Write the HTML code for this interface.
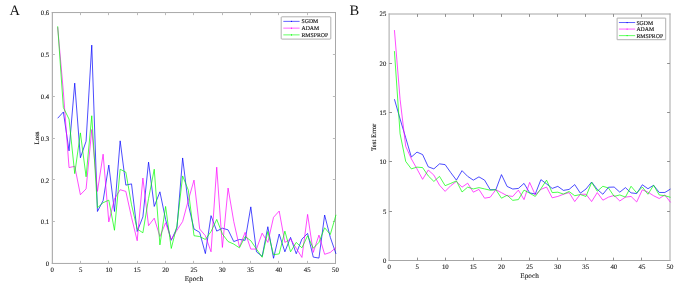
<!DOCTYPE html>
<html><head><meta charset="utf-8"><title>Training curves</title>
<style>
html,body{margin:0;padding:0;background:#fff;}
body{width:685px;height:287px;overflow:hidden;font-family:"Liberation Serif",serif;}
svg{display:block;will-change:transform;opacity:0.999;}
text{text-rendering:geometricPrecision;}
</style></head><body>
<svg width="685" height="287" viewBox="0 0 685 287" font-family="'Liberation Serif', serif">
<rect width="685" height="287" fill="#fff"/>
<text x="9.6" y="15.3" font-size="14.5" fill="#111">A</text>
<text x="349.4" y="15" font-size="14.5" fill="#111">B</text>
<line x1="52.35" y1="12.05" x2="52.35" y2="263.95" stroke="#a8a8a8" stroke-width="1.1"/>
<line x1="335.50" y1="12.05" x2="335.50" y2="263.95" stroke="#a8a8a8" stroke-width="1.0"/>
<line x1="51.80" y1="12.55" x2="336.00" y2="12.55" stroke="#a8a8a8" stroke-width="1.0"/>
<line x1="51.80" y1="263.45" x2="336.00" y2="263.45" stroke="#a8a8a8" stroke-width="1.0"/>
<text x="52.30" y="271.85" text-anchor="middle" font-size="6.8" fill="#1a1a1a" stroke="#1a1a1a" stroke-width="0.12">0</text>
<line x1="80.50" y1="263.45" x2="80.50" y2="260.85" stroke="#bababa" stroke-width="1"/>
<line x1="80.50" y1="12.55" x2="80.50" y2="15.15" stroke="#bababa" stroke-width="1"/>
<text x="80.62" y="271.85" text-anchor="middle" font-size="6.8" fill="#1a1a1a" stroke="#1a1a1a" stroke-width="0.12">5</text>
<line x1="108.50" y1="263.45" x2="108.50" y2="260.85" stroke="#bababa" stroke-width="1"/>
<line x1="108.50" y1="12.55" x2="108.50" y2="15.15" stroke="#bababa" stroke-width="1"/>
<text x="108.94" y="271.85" text-anchor="middle" font-size="6.8" fill="#1a1a1a" stroke="#1a1a1a" stroke-width="0.12">10</text>
<line x1="137.50" y1="263.45" x2="137.50" y2="260.85" stroke="#bababa" stroke-width="1"/>
<line x1="137.50" y1="12.55" x2="137.50" y2="15.15" stroke="#bababa" stroke-width="1"/>
<text x="137.26" y="271.85" text-anchor="middle" font-size="6.8" fill="#1a1a1a" stroke="#1a1a1a" stroke-width="0.12">15</text>
<line x1="165.50" y1="263.45" x2="165.50" y2="260.85" stroke="#bababa" stroke-width="1"/>
<line x1="165.50" y1="12.55" x2="165.50" y2="15.15" stroke="#bababa" stroke-width="1"/>
<text x="165.58" y="271.85" text-anchor="middle" font-size="6.8" fill="#1a1a1a" stroke="#1a1a1a" stroke-width="0.12">20</text>
<line x1="193.50" y1="263.45" x2="193.50" y2="260.85" stroke="#bababa" stroke-width="1"/>
<line x1="193.50" y1="12.55" x2="193.50" y2="15.15" stroke="#bababa" stroke-width="1"/>
<text x="193.90" y="271.85" text-anchor="middle" font-size="6.8" fill="#1a1a1a" stroke="#1a1a1a" stroke-width="0.12">25</text>
<line x1="222.50" y1="263.45" x2="222.50" y2="260.85" stroke="#bababa" stroke-width="1"/>
<line x1="222.50" y1="12.55" x2="222.50" y2="15.15" stroke="#bababa" stroke-width="1"/>
<text x="222.22" y="271.85" text-anchor="middle" font-size="6.8" fill="#1a1a1a" stroke="#1a1a1a" stroke-width="0.12">30</text>
<line x1="250.50" y1="263.45" x2="250.50" y2="260.85" stroke="#bababa" stroke-width="1"/>
<line x1="250.50" y1="12.55" x2="250.50" y2="15.15" stroke="#bababa" stroke-width="1"/>
<text x="250.54" y="271.85" text-anchor="middle" font-size="6.8" fill="#1a1a1a" stroke="#1a1a1a" stroke-width="0.12">35</text>
<line x1="278.50" y1="263.45" x2="278.50" y2="260.85" stroke="#bababa" stroke-width="1"/>
<line x1="278.50" y1="12.55" x2="278.50" y2="15.15" stroke="#bababa" stroke-width="1"/>
<text x="278.86" y="271.85" text-anchor="middle" font-size="6.8" fill="#1a1a1a" stroke="#1a1a1a" stroke-width="0.12">40</text>
<line x1="307.50" y1="263.45" x2="307.50" y2="260.85" stroke="#bababa" stroke-width="1"/>
<line x1="307.50" y1="12.55" x2="307.50" y2="15.15" stroke="#bababa" stroke-width="1"/>
<text x="307.18" y="271.85" text-anchor="middle" font-size="6.8" fill="#1a1a1a" stroke="#1a1a1a" stroke-width="0.12">45</text>
<text x="335.50" y="271.85" text-anchor="middle" font-size="6.8" fill="#1a1a1a" stroke="#1a1a1a" stroke-width="0.12">50</text>
<text x="49.20" y="266.15" text-anchor="end" font-size="6.7" fill="#1a1a1a" stroke="#1a1a1a" stroke-width="0.12">0</text>
<line x1="52.30" y1="221.50" x2="54.90" y2="221.50" stroke="#bababa" stroke-width="1"/>
<line x1="335.50" y1="221.50" x2="332.90" y2="221.50" stroke="#bababa" stroke-width="1"/>
<text x="49.20" y="224.33" text-anchor="end" font-size="6.7" fill="#1a1a1a" stroke="#1a1a1a" stroke-width="0.12">0.1</text>
<line x1="52.30" y1="179.50" x2="54.90" y2="179.50" stroke="#bababa" stroke-width="1"/>
<line x1="335.50" y1="179.50" x2="332.90" y2="179.50" stroke="#bababa" stroke-width="1"/>
<text x="49.20" y="182.52" text-anchor="end" font-size="6.7" fill="#1a1a1a" stroke="#1a1a1a" stroke-width="0.12">0.2</text>
<line x1="52.30" y1="138.50" x2="54.90" y2="138.50" stroke="#bababa" stroke-width="1"/>
<line x1="335.50" y1="138.50" x2="332.90" y2="138.50" stroke="#bababa" stroke-width="1"/>
<text x="49.20" y="140.70" text-anchor="end" font-size="6.7" fill="#1a1a1a" stroke="#1a1a1a" stroke-width="0.12">0.3</text>
<line x1="52.30" y1="96.50" x2="54.90" y2="96.50" stroke="#bababa" stroke-width="1"/>
<line x1="335.50" y1="96.50" x2="332.90" y2="96.50" stroke="#bababa" stroke-width="1"/>
<text x="49.20" y="98.88" text-anchor="end" font-size="6.7" fill="#1a1a1a" stroke="#1a1a1a" stroke-width="0.12">0.4</text>
<line x1="52.30" y1="54.50" x2="54.90" y2="54.50" stroke="#bababa" stroke-width="1"/>
<line x1="335.50" y1="54.50" x2="332.90" y2="54.50" stroke="#bababa" stroke-width="1"/>
<text x="49.20" y="57.07" text-anchor="end" font-size="6.7" fill="#1a1a1a" stroke="#1a1a1a" stroke-width="0.12">0.5</text>
<text x="49.20" y="15.25" text-anchor="end" font-size="6.7" fill="#1a1a1a" stroke="#1a1a1a" stroke-width="0.12">0.6</text>
<text x="193.90" y="280.50" text-anchor="middle" font-size="7.2" fill="#1a1a1a" stroke="#1a1a1a" stroke-width="0.1">Epoch</text>
<text transform="translate(38.80,138.00) rotate(-90)" text-anchor="middle" font-size="6.8" fill="#1a1a1a" stroke="#1a1a1a" stroke-width="0.1">Loss</text>
<rect x="281.20" y="16.80" width="49.60" height="22.30" rx="0.8" fill="#fff" stroke="#9c9c9c" stroke-width="0.8"/>
<line x1="283.30" y1="21.37" x2="299.60" y2="21.37" stroke="#0000ff" stroke-width="0.62"/>
<circle cx="291.50" cy="21.37" r="0.6" fill="#0000ff"/>
<text x="301.50" y="23.37" font-size="5.8" fill="#1a1a1a" stroke="#1a1a1a" stroke-width="0.14">SGDM</text>
<line x1="283.30" y1="28.13" x2="299.60" y2="28.13" stroke="#ff00ff" stroke-width="0.62"/>
<circle cx="291.50" cy="28.13" r="0.6" fill="#ff00ff"/>
<text x="301.50" y="30.13" font-size="5.8" fill="#1a1a1a" stroke="#1a1a1a" stroke-width="0.14">ADAM</text>
<line x1="283.30" y1="34.89" x2="299.60" y2="34.89" stroke="#00ff00" stroke-width="0.62"/>
<circle cx="291.50" cy="34.89" r="0.6" fill="#00ff00"/>
<text x="301.50" y="36.89" font-size="5.8" fill="#1a1a1a" stroke="#1a1a1a" stroke-width="0.14">RMSPROP</text>
<polyline fill="none" stroke="#0000ff" stroke-width="0.7" stroke-linejoin="miter" stroke-miterlimit="2.5" points="57.68,118.25 63.36,111.98 69.04,150.86 74.72,83.14 80.40,157.75 86.08,141.24 91.76,45.10 97.44,211.47 103.12,200.60 108.80,165.07 114.48,211.47 120.16,140.83 125.84,185.13 131.52,183.88 137.20,231.53 142.88,216.90 148.56,162.14 154.24,206.45 159.92,191.82 165.60,219.41 171.28,240.31 176.96,227.77 182.64,157.96 188.32,204.36 194.00,229.02 199.68,232.37 205.36,253.60 211.04,215.65 216.72,231.11 222.40,228.19 228.08,229.86 233.76,241.56 239.44,239.47 245.12,240.31 250.80,206.87 256.48,251.81 262.16,256.40 267.84,226.73 273.52,258.28 279.20,234.04 284.88,251.81 290.56,237.38 296.24,253.77 301.92,239.06 307.60,233.41 313.28,257.11 318.96,258.07 324.64,215.02 330.32,237.38 336.00,253.90"/>
<polyline fill="none" stroke="#ff00ff" stroke-width="0.7" stroke-linejoin="miter" stroke-miterlimit="2.5" points="57.68,27.13 63.36,91.92 69.04,167.58 74.72,166.32 80.40,194.75 86.08,188.90 91.76,129.54 97.44,191.40 103.12,154.20 108.80,221.92 114.48,198.93 120.16,189.73 125.84,191.40 131.52,217.32 137.20,240.73 142.88,178.03 148.56,225.68 154.24,218.16 159.92,236.55 165.60,222.75 171.28,239.47 176.96,230.28 182.64,221.50 188.32,200.18 194.00,180.12 199.68,229.02 205.36,235.71 211.04,251.81 216.72,167.16 222.40,247.42 228.08,188.06 233.76,221.50 239.44,247.00 245.12,232.37 250.80,249.09 256.48,249.09 262.16,233.20 267.84,242.40 273.52,217.32 279.20,211.05 284.88,242.40 290.56,239.06 296.24,248.25 301.92,257.45 307.60,214.39 313.28,252.43 318.96,235.09 324.64,254.31 330.32,252.43 336.00,247.42"/>
<polyline fill="none" stroke="#00ff00" stroke-width="0.7" stroke-linejoin="miter" stroke-miterlimit="2.5" points="57.68,26.29 63.36,107.59 69.04,119.09 74.72,173.64 80.40,132.88 86.08,176.77 91.76,115.75 97.44,207.71 103.12,202.69 108.80,200.18 114.48,230.28 120.16,169.25 125.84,172.18 131.52,204.78 137.20,229.02 142.88,232.79 148.56,198.51 154.24,169.25 159.92,244.91 165.60,206.45 171.28,248.46 176.96,225.68 182.64,175.94 188.32,190.15 194.00,235.71 199.68,236.55 205.36,239.47 211.04,231.53 216.72,219.41 222.40,234.04 228.08,241.56 233.76,244.07 239.44,247.83 245.12,236.55 250.80,240.73 256.48,249.09 262.16,257.24 267.84,231.53 273.52,254.73 279.20,253.90 284.88,231.11 290.56,251.81 296.24,242.40 301.92,247.83 307.60,235.71 313.28,248.25 318.96,242.40 324.64,227.77 330.32,234.46 336.00,214.81"/>
<line x1="389.10" y1="13.50" x2="389.10" y2="261.00" stroke="#a6a6a6" stroke-width="1.0"/>
<line x1="670.00" y1="13.50" x2="670.00" y2="261.00" stroke="#a6a6a6" stroke-width="1.0"/>
<line x1="388.60" y1="14.00" x2="670.50" y2="14.00" stroke="#a6a6a6" stroke-width="1.0"/>
<line x1="388.60" y1="260.50" x2="670.50" y2="260.50" stroke="#a6a6a6" stroke-width="1.0"/>
<text x="389.10" y="268.90" text-anchor="middle" font-size="6.8" fill="#1a1a1a" stroke="#1a1a1a" stroke-width="0.12">0</text>
<line x1="417.50" y1="260.50" x2="417.50" y2="257.60" stroke="#909090" stroke-width="1"/>
<line x1="417.50" y1="14.00" x2="417.50" y2="16.90" stroke="#909090" stroke-width="1"/>
<text x="417.19" y="268.90" text-anchor="middle" font-size="6.8" fill="#1a1a1a" stroke="#1a1a1a" stroke-width="0.12">5</text>
<line x1="445.50" y1="260.50" x2="445.50" y2="257.60" stroke="#909090" stroke-width="1"/>
<line x1="445.50" y1="14.00" x2="445.50" y2="16.90" stroke="#909090" stroke-width="1"/>
<text x="445.28" y="268.90" text-anchor="middle" font-size="6.8" fill="#1a1a1a" stroke="#1a1a1a" stroke-width="0.12">10</text>
<line x1="473.50" y1="260.50" x2="473.50" y2="257.60" stroke="#909090" stroke-width="1"/>
<line x1="473.50" y1="14.00" x2="473.50" y2="16.90" stroke="#909090" stroke-width="1"/>
<text x="473.37" y="268.90" text-anchor="middle" font-size="6.8" fill="#1a1a1a" stroke="#1a1a1a" stroke-width="0.12">15</text>
<line x1="501.50" y1="260.50" x2="501.50" y2="257.60" stroke="#909090" stroke-width="1"/>
<line x1="501.50" y1="14.00" x2="501.50" y2="16.90" stroke="#909090" stroke-width="1"/>
<text x="501.46" y="268.90" text-anchor="middle" font-size="6.8" fill="#1a1a1a" stroke="#1a1a1a" stroke-width="0.12">20</text>
<line x1="529.50" y1="260.50" x2="529.50" y2="257.60" stroke="#909090" stroke-width="1"/>
<line x1="529.50" y1="14.00" x2="529.50" y2="16.90" stroke="#909090" stroke-width="1"/>
<text x="529.55" y="268.90" text-anchor="middle" font-size="6.8" fill="#1a1a1a" stroke="#1a1a1a" stroke-width="0.12">25</text>
<line x1="557.50" y1="260.50" x2="557.50" y2="257.60" stroke="#909090" stroke-width="1"/>
<line x1="557.50" y1="14.00" x2="557.50" y2="16.90" stroke="#909090" stroke-width="1"/>
<text x="557.64" y="268.90" text-anchor="middle" font-size="6.8" fill="#1a1a1a" stroke="#1a1a1a" stroke-width="0.12">30</text>
<line x1="585.50" y1="260.50" x2="585.50" y2="257.60" stroke="#909090" stroke-width="1"/>
<line x1="585.50" y1="14.00" x2="585.50" y2="16.90" stroke="#909090" stroke-width="1"/>
<text x="585.73" y="268.90" text-anchor="middle" font-size="6.8" fill="#1a1a1a" stroke="#1a1a1a" stroke-width="0.12">35</text>
<line x1="613.50" y1="260.50" x2="613.50" y2="257.60" stroke="#909090" stroke-width="1"/>
<line x1="613.50" y1="14.00" x2="613.50" y2="16.90" stroke="#909090" stroke-width="1"/>
<text x="613.82" y="268.90" text-anchor="middle" font-size="6.8" fill="#1a1a1a" stroke="#1a1a1a" stroke-width="0.12">40</text>
<line x1="641.50" y1="260.50" x2="641.50" y2="257.60" stroke="#909090" stroke-width="1"/>
<line x1="641.50" y1="14.00" x2="641.50" y2="16.90" stroke="#909090" stroke-width="1"/>
<text x="641.91" y="268.90" text-anchor="middle" font-size="6.8" fill="#1a1a1a" stroke="#1a1a1a" stroke-width="0.12">45</text>
<text x="670.00" y="268.90" text-anchor="middle" font-size="6.8" fill="#1a1a1a" stroke="#1a1a1a" stroke-width="0.12">50</text>
<text x="386.30" y="262.80" text-anchor="end" font-size="6.7" fill="#1a1a1a" stroke="#1a1a1a" stroke-width="0.12">0</text>
<line x1="389.10" y1="211.50" x2="392.00" y2="211.50" stroke="#909090" stroke-width="1"/>
<line x1="670.00" y1="211.50" x2="667.10" y2="211.50" stroke="#909090" stroke-width="1"/>
<text x="386.30" y="213.50" text-anchor="end" font-size="6.7" fill="#1a1a1a" stroke="#1a1a1a" stroke-width="0.12">5</text>
<line x1="389.10" y1="161.50" x2="392.00" y2="161.50" stroke="#909090" stroke-width="1"/>
<line x1="670.00" y1="161.50" x2="667.10" y2="161.50" stroke="#909090" stroke-width="1"/>
<text x="386.30" y="164.20" text-anchor="end" font-size="6.7" fill="#1a1a1a" stroke="#1a1a1a" stroke-width="0.12">10</text>
<line x1="389.10" y1="112.50" x2="392.00" y2="112.50" stroke="#909090" stroke-width="1"/>
<line x1="670.00" y1="112.50" x2="667.10" y2="112.50" stroke="#909090" stroke-width="1"/>
<text x="386.30" y="114.90" text-anchor="end" font-size="6.7" fill="#1a1a1a" stroke="#1a1a1a" stroke-width="0.12">15</text>
<line x1="389.10" y1="63.50" x2="392.00" y2="63.50" stroke="#909090" stroke-width="1"/>
<line x1="670.00" y1="63.50" x2="667.10" y2="63.50" stroke="#909090" stroke-width="1"/>
<text x="386.30" y="65.60" text-anchor="end" font-size="6.7" fill="#1a1a1a" stroke="#1a1a1a" stroke-width="0.12">20</text>
<text x="386.30" y="16.30" text-anchor="end" font-size="6.7" fill="#1a1a1a" stroke="#1a1a1a" stroke-width="0.12">25</text>
<text x="529.55" y="277.50" text-anchor="middle" font-size="7.2" fill="#1a1a1a" stroke="#1a1a1a" stroke-width="0.1">Epoch</text>
<text transform="translate(376.40,137.25) rotate(-90)" text-anchor="middle" font-size="6.8" fill="#1a1a1a" stroke="#1a1a1a" stroke-width="0.1">Test Error</text>
<rect x="617.10" y="18.10" width="48.60" height="21.60" rx="0.2" fill="#fff" stroke="#9c9c9c" stroke-width="0.8"/>
<line x1="618.90" y1="22.53" x2="635.20" y2="22.53" stroke="#0000ff" stroke-width="0.62"/>
<circle cx="627.10" cy="22.53" r="0.6" fill="#0000ff"/>
<text x="636.40" y="24.53" font-size="5.8" fill="#1a1a1a" stroke="#1a1a1a" stroke-width="0.14">SGDM</text>
<line x1="618.90" y1="29.07" x2="635.20" y2="29.07" stroke="#ff00ff" stroke-width="0.62"/>
<circle cx="627.10" cy="29.07" r="0.6" fill="#ff00ff"/>
<text x="636.40" y="31.07" font-size="5.8" fill="#1a1a1a" stroke="#1a1a1a" stroke-width="0.14">ADAM</text>
<line x1="618.90" y1="35.62" x2="635.20" y2="35.62" stroke="#00ff00" stroke-width="0.62"/>
<circle cx="627.10" cy="35.62" r="0.6" fill="#00ff00"/>
<text x="636.40" y="37.62" font-size="5.8" fill="#1a1a1a" stroke="#1a1a1a" stroke-width="0.14">RMSPROP</text>
<polyline fill="none" stroke="#0000ff" stroke-width="0.7" stroke-linejoin="miter" stroke-miterlimit="2.5" points="394.43,99.19 400.07,118.93 405.70,137.69 411.34,157.04 416.97,152.10 422.60,154.57 428.24,166.81 433.87,168.88 439.51,163.85 445.14,164.64 450.77,172.63 456.41,180.14 462.04,170.66 467.68,176.39 473.31,180.14 478.94,176.88 484.58,180.14 490.21,189.71 495.85,189.71 501.48,174.61 507.11,186.45 512.75,189.02 518.38,188.43 524.02,183.39 529.65,192.87 535.28,194.06 540.92,179.64 546.55,183.89 552.19,188.43 557.82,186.36 563.45,190.40 569.09,189.42 574.72,184.58 580.36,193.17 585.99,189.02 591.62,182.01 597.26,189.42 602.89,194.25 608.53,187.24 614.16,187.05 619.79,192.18 625.43,187.64 631.06,192.87 636.70,193.56 642.33,184.78 647.96,188.73 653.60,185.27 659.23,192.48 664.87,192.48 670.50,189.02"/>
<polyline fill="none" stroke="#ff00ff" stroke-width="0.7" stroke-linejoin="miter" stroke-miterlimit="2.5" points="394.43,30.08 400.07,99.19 405.70,146.28 411.34,158.81 416.97,168.88 422.60,179.35 428.24,170.07 433.87,175.10 439.51,185.17 445.14,191.39 450.77,185.67 456.41,181.42 462.04,187.15 467.68,183.20 473.31,192.18 478.94,189.42 484.58,198.20 490.21,197.22 495.85,189.71 501.48,192.67 507.11,195.73 512.75,196.43 518.38,190.11 524.02,199.58 529.65,182.41 535.28,194.94 540.92,189.42 546.55,187.05 552.19,197.81 557.82,196.43 563.45,194.25 569.09,192.58 574.72,201.56 580.36,194.25 585.99,194.25 591.62,201.56 597.26,192.58 602.89,200.18 608.53,197.12 614.16,195.44 619.79,200.97 625.43,197.12 631.06,196.43 636.70,201.95 642.33,189.81 647.96,192.18 653.60,195.73 659.23,198.50 664.87,194.94 670.50,202.35"/>
<polyline fill="none" stroke="#00ff00" stroke-width="0.7" stroke-linejoin="miter" stroke-miterlimit="2.5" points="394.43,51.11 400.07,133.74 405.70,161.38 411.34,168.88 416.97,167.11 422.60,167.60 428.24,175.89 433.87,181.42 439.51,176.39 445.14,185.67 450.77,183.39 456.41,180.93 462.04,191.98 467.68,187.15 473.31,188.92 478.94,187.64 484.58,188.92 490.21,190.21 495.85,189.71 501.48,198.20 507.11,195.24 512.75,200.37 518.38,199.58 524.02,190.11 529.65,193.17 535.28,196.43 540.92,188.73 546.55,180.14 552.19,192.58 557.82,192.18 563.45,194.06 569.09,191.49 574.72,195.73 580.36,194.55 585.99,196.43 591.62,182.41 597.26,191.19 602.89,186.26 608.53,188.03 614.16,196.43 619.79,194.94 625.43,197.12 631.06,186.26 636.70,192.87 642.33,187.05 647.96,194.25 653.60,185.27 659.23,194.94 664.87,195.73 670.50,197.31"/>
</svg>
</body></html>
